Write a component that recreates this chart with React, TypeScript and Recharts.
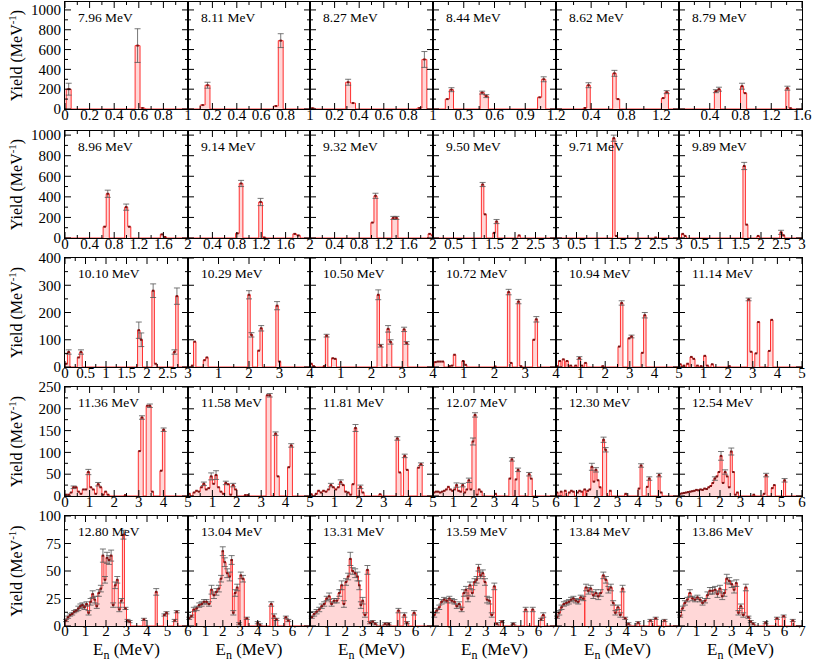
import React from 'react'
import { ComposedChart, Area, Scatter, ErrorBar, XAxis, YAxis } from 'recharts'

const FONT = '"Liberation Serif", "Times New Roman", serif'

const ENERGIES = [
  '7.96', '8.11', '8.27', '8.44', '8.62', '8.79',
  '8.96', '9.14', '9.32', '9.50', '9.71', '9.89',
  '10.10', '10.29', '10.50', '10.72', '10.94', '11.14',
  '11.36', '11.58', '11.81', '12.07', '12.30', '12.54',
  '12.80', '13.04', '13.31', '13.59', '13.84', '13.86',
]

const COL_LEFT = [65, 188, 310, 433, 556, 679]
const COL_W = [123, 122, 123, 123, 123, 123]
const ROW_TOP = [2, 131, 258, 387, 516]
const ROW_H = [107, 107, 109, 109, 110]
const Y_MAX = [1080, 1040, 400, 250, 100]
const Y_TICKS = [
  [0, 200, 400, 600, 800, 1000],
  [0, 200, 400, 600, 800, 1000],
  [0, 100, 200, 300, 400],
  [0, 50, 100, 150, 200, 250],
  [0, 25, 50, 75, 100],
]

const T1 = [0, 0.2, 0.4, 0.6, 0.8, 1]
const T2 = [0, 0.4, 0.8, 1.2, 1.6, 2]
const T3 = [0, 0.5, 1, 1.5, 2, 2.5, 3]
const T4 = [0, 1, 2, 3, 4]
const T5 = [0, 1, 2, 3, 4, 5]
const T6 = [0, 1, 2, 3, 4, 5, 6]
const T7 = [0, 1, 2, 3, 4, 5, 6, 7]
const X_TICKS = [
  T1, T1, T1, [0, 0.3, 0.6, 0.9, 1.2], [0, 0.4, 0.8, 1.2], [0, 0.4, 0.8, 1.2, 1.6],
  T2, T2, T2, T3, T3, T3,
  T3, T4, T4, T4, T5, T5,
  T5, T5, T5, T6, T6, T6,
  T6, T7, T7, T7, T7, T7,
]
const X_MAX = [
  1, 1, 1, 1.2, 1.4, 1.6,
  2, 2, 2, 3, 3, 3,
  3, 4, 4, 4, 5, 5,
  5, 5, 5, 6, 6, 6,
  6, 7, 7, 7, 7, 7,
]
const BIN_W = [
  0.04, 0.04, 0.04, 0.04, 0.04, 0.04,
  0.05, 0.06, 0.05, 0.06, 0.06, 0.06,
  0.06, 0.08, 0.08, 0.08, 0.1, 0.1,
  0.1, 0.1, 0.1, 0.1, 0.1, 0.1,
  0.1, 0.15, 0.15, 0.15, 0.15, 0.15,
]

// [bin left edge (MeV), yield, error]
const B796 = [[0.01, 200, 60], [0.57, 640, 170], [0.61, 10]]
const B811 = [[0.1, 40], [0.14, 240, 30], [0.7, 30], [0.74, 690, 70]]
const B827 = [[0, 8], [0.29, 270, 30], [0.33, 60], [0.87, 10], [0.91, 500, 80]]
const B844 = [[0.12, 100], [0.16, 195, 20], [0.46, 165, 15], [0.5, 130, 15], [1.02, 118], [1.06, 300, 25]]
const B862 = [[0.31, 10], [0.35, 240, 25], [0.645, 360, 30], [0.685, 100], [1.2, 110], [1.24, 170, 15]]
const B879 = [[0.46, 180, 15], [0.5, 200, 20], [0.8, 230, 30], [0.84, 160], [1.39, 210, 20], [1.43, 8]]

const B896 = [[0.62, 110], [0.67, 430, 35], [0.97, 300, 30], [1.02, 110], [1.55, 35], [1.6, 10]]
const B914 = [[0.78, 45], [0.84, 530, 30], [1.16, 350, 35], [1.22, 5], [1.72, 40], [1.78, 25]]
const B932 = [[0.99, 150], [1.04, 410, 25], [1.33, 195, 15], [1.38, 195, 15], [1.92, 40], [1.97, 25]]
const B950 = [[1.18, 520, 20], [1.24, 230], [1.46, 50], [1.52, 160, 20], [2.07, 25]]
const B971 = [[1.38, 970, 30], [1.44, 20], [2.4, 5]]
const B989 = [[0.06, 40], [0.12, 20], [1.56, 700, 35], [1.62, 130], [1.9, 20], [2.46, 55, 20], [2.52, 25]]

const B1010 = [[0, 12], [0.06, 55, 8], [0.3, 35], [0.36, 55, 8], [1.77, 135, 30], [1.83, 100, 25], [2.12, 280, 25], [2.18, 12], [2.64, 55, 8], [2.7, 260, 30]]
const B1029 = [[0.1, 5], [0.18, 93], [0.5, 25], [0.58, 35], [1.96, 265, 15], [2.04, 118, 8], [2.28, 60], [2.36, 142, 10], [2.88, 225, 15], [2.96, 20]]
const B1050 = [[0, 12], [0.08, 3], [0.42, 3], [0.5, 115, 5], [0.7, 32], [0.78, 30], [2.18, 265, 18], [2.26, 78, 5], [2.5, 140, 12], [2.58, 92, 8], [3.02, 138, 8], [3.1, 88, 5]]
const B1072 = [[0.04, 18], [0.12, 20], [0.2, 20], [0.28, 20], [0.5, 3], [0.58, 5], [0.66, 45], [0.94, 22], [1.02, 8], [1.98, 2], [2.42, 275, 10], [2.5, 15], [2.74, 240, 8], [2.82, 3], [3.24, 100], [3.32, 175, 10]]
const B1094 = [[0, 3], [0.1, 22], [0.25, 28], [0.4, 22], [0.55, 5], [0.75, 5], [0.9, 33, 5], [1.0, 5], [1.15, 15], [1.85, 3], [2.52, 75], [2.62, 235, 8], [2.92, 105], [3.02, 112, 5], [3.46, 52], [3.56, 190, 10]]
const B1114 = [[0, 10], [0.15, 5], [0.3, 12], [0.45, 37], [0.55, 30], [0.7, 5], [0.85, 3], [1.0, 41], [1.1, 5], [1.3, 10], [2.0, 3], [2.78, 248, 5], [2.88, 56], [3.08, 50], [3.18, 165], [3.62, 59], [3.72, 173]]

const B1136 = [[0, 3], [0.1, 3], [0.2, 8], [0.3, 20, 3], [0.4, 20], [0.5, 10], [0.6, 5], [0.7, 15], [0.8, 15], [0.9, 55, 6], [1.0, 20], [1.1, 15], [1.2, 5], [1.3, 27, 4], [1.4, 20], [1.5, 3], [1.6, 10], [1.7, 3], [2.4, 2], [2.98, 103], [3.08, 180, 4], [3.3, 207], [3.4, 207, 4], [3.5, 10], [3.86, 58], [3.96, 152, 4]]
const B1158 = [[0, 5], [0.2, 8], [0.3, 12], [0.4, 10], [0.5, 20], [0.6, 28, 4], [0.7, 15], [0.8, 18], [0.9, 45, 8], [1.0, 28], [1.1, 48, 10], [1.2, 20], [1.3, 10], [1.4, 5], [1.5, 30, 4], [1.6, 27], [1.7, 3], [1.8, 25, 4], [1.9, 15], [2.3, 2], [2.4, 2], [3.2, 231], [3.3, 231, 4], [3.54, 143, 4], [3.64, 45], [4.08, 66], [4.18, 116, 4]]
const B1181 = [[0, 4], [0.2, 5], [0.3, 12], [0.4, 8], [0.5, 12], [0.6, 10], [0.7, 15], [0.8, 25, 4], [0.9, 20], [1.0, 15], [1.1, 20], [1.2, 32, 5], [1.3, 25], [1.4, 10], [1.5, 8], [1.6, 3], [1.7, 27], [1.8, 156, 8], [2.0, 21, 4], [2.1, 8], [2.8, 4], [3.5, 132, 4], [3.6, 54], [3.8, 92, 4], [3.9, 60], [4.36, 65], [4.46, 73, 3]]
const B1207 = [[0, 8], [0.1, 10], [0.2, 10], [0.3, 8], [0.4, 10], [0.5, 12], [0.6, 15], [0.7, 21], [0.8, 15], [0.9, 12], [1.0, 15], [1.1, 25, 5], [1.2, 12], [1.3, 10], [1.4, 25, 4], [1.5, 8], [1.6, 15], [1.7, 36, 5], [1.8, 15], [1.9, 125, 8], [2.0, 186, 5], [2.1, 3], [2.2, 15], [2.3, 10], [3.0, 5], [3.7, 40], [3.8, 84, 4], [4.0, 38], [4.1, 60, 4], [4.64, 50, 4], [4.74, 40]]
const B1230 = [[0, 8], [0.2, 10], [0.4, 12], [0.6, 8], [0.7, 12], [0.8, 10], [1.0, 8], [1.1, 12], [1.2, 10], [1.35, 15], [1.5, 12], [1.6, 15], [1.7, 67, 8], [1.8, 33], [1.9, 60, 5], [2.0, 36], [2.1, 20], [2.27, 129, 6], [2.37, 106, 5], [2.6, 12], [3.35, 5], [4.0, 17], [4.1, 70, 4], [4.4, 21], [4.5, 40, 4], [4.98, 48, 4], [5.08, 8]]
const B1254 = [[0, 5], [0.1, 6], [0.2, 7], [0.3, 8], [0.4, 9], [0.5, 10], [0.6, 11], [0.7, 12], [0.8, 14], [0.9, 13], [1.0, 15], [1.1, 14], [1.2, 17], [1.3, 16], [1.4, 20], [1.5, 23], [1.6, 30], [1.7, 40, 4], [1.8, 45], [1.9, 55], [2.0, 92, 10], [2.1, 30], [2.2, 55, 5], [2.3, 45], [2.4, 20], [2.5, 102, 8], [2.6, 55], [2.7, 3], [2.8, 8], [3.6, 3], [4.1, 5], [4.2, 48, 4], [4.5, 18], [4.6, 25], [5.1, 36, 4]]

const B1280 = [[0, 5, 1], [0.1, 8, 1], [0.2, 10, 1], [0.3, 11, 1], [0.4, 13, 1], [0.5, 14, 1], [0.6, 16, 2], [0.7, 18, 2], [0.8, 19, 2], [0.9, 17, 2], [1.0, 20, 2], [1.1, 12, 2], [1.2, 22, 3], [1.3, 29, 3], [1.4, 24, 3], [1.5, 18, 2], [1.6, 30, 3], [1.7, 34, 3], [1.8, 64, 6], [1.9, 42, 3], [2.0, 62, 5], [2.1, 60, 4], [2.2, 64, 5], [2.3, 19, 2], [2.4, 37, 3], [2.5, 42, 3], [2.6, 15, 2], [2.7, 23, 2], [2.8, 83, 4], [2.9, 16, 1], [3.0, 5, 1], [3.1, 4, 1], [3.8, 6, 1], [4.4, 31, 3], [4.8, 10, 1], [4.9, 12, 1], [5.3, 5, 1], [5.4, 13, 1]]
const B1304 = [[0, 7, 1], [0.13, 9, 1], [0.26, 15, 2], [0.42, 16, 2], [0.57, 19, 2], [0.72, 20, 2], [0.85, 22, 2], [0.99, 22, 2], [1.13, 20, 2], [1.28, 33, 4], [1.42, 28, 3], [1.56, 31, 3], [1.7, 34, 3], [1.84, 43, 3], [1.95, 68, 4], [2.04, 58, 4], [2.18, 48, 4], [2.32, 45, 4], [2.46, 60, 4], [2.55, 12, 2], [2.65, 30, 3], [2.76, 35, 3], [2.88, 2, 1], [2.98, 46, 3], [3.08, 43, 3], [3.3, 7, 1], [3.95, 3, 1], [4.05, 1, 1], [4.7, 20, 2], [4.88, 9, 2], [5.0, 6, 1], [5.55, 8, 1], [5.68, 5, 1]]
const B1331 = [[0.03, 8, 1], [0.17, 11, 2], [0.3, 13, 2], [0.45, 15, 2], [0.6, 18, 2], [0.74, 20, 2], [0.88, 25, 2], [1.02, 27, 3], [1.16, 20, 2], [1.3, 23, 2], [1.45, 23, 2], [1.6, 30, 3], [1.74, 37, 4], [1.87, 20, 3], [1.99, 40, 3], [2.11, 45, 3], [2.23, 61, 6], [2.36, 50, 3], [2.5, 48, 4], [2.64, 45, 4], [2.76, 37, 4], [2.85, 19, 3], [2.94, 23, 3], [3.06, 10, 2], [3.2, 51, 4], [3.34, 3, 1], [3.5, 4, 1], [3.64, 2, 1], [4.2, 2, 1], [4.4, 2, 1], [4.96, 14, 2], [5.3, 10, 2], [5.44, 3, 1], [5.85, 12, 2]]
const B1359 = [[0, 10, 2], [0.14, 14, 2], [0.29, 17, 2], [0.42, 22, 2], [0.56, 24, 2], [0.7, 23, 2], [0.86, 25, 2], [1.0, 23, 2], [1.15, 22, 2], [1.29, 18, 2], [1.42, 20, 2], [1.56, 15, 2], [1.7, 30, 3], [1.82, 33, 3], [1.94, 25, 3], [2.04, 37, 3], [2.17, 30, 3], [2.3, 40, 3], [2.43, 42, 3], [2.53, 53, 3], [2.65, 46, 3], [2.77, 48, 3], [2.9, 40, 3], [3.02, 24, 3], [3.14, 23, 3], [3.27, 10, 2], [3.42, 36, 3], [3.56, 2, 1], [3.84, 4, 1], [4.5, 2, 1], [5.2, 15, 2], [5.6, 15, 2], [6.1, 6, 1], [6.2, 10, 2]]
const B1384 = [[0, 8, 1], [0.12, 12, 2], [0.25, 17, 2], [0.38, 20, 2], [0.52, 21, 2], [0.67, 22, 2], [0.8, 24, 2], [0.92, 25, 2], [1.06, 23, 2], [1.2, 22, 2], [1.33, 26, 2], [1.48, 25, 2], [1.64, 35, 3], [1.78, 32, 3], [1.9, 34, 3], [2.05, 28, 3], [2.2, 30, 3], [2.34, 27, 3], [2.47, 30, 3], [2.62, 46, 3], [2.77, 42, 3], [2.91, 33, 3], [3.05, 35, 3], [3.2, 21, 2], [3.31, 12, 2], [3.45, 17, 2], [3.6, 10, 2], [3.72, 34, 3], [3.86, 7, 1], [4.05, 2, 1], [4.6, 3, 1], [5.3, 5, 1], [5.6, 7, 1], [6.1, 5, 1]]
const B1386 = [[0, 9, 1], [0.13, 16, 2], [0.27, 21, 2], [0.4, 24, 2], [0.55, 30, 3], [0.69, 25, 2], [0.84, 24, 2], [0.98, 26, 2], [1.12, 24, 2], [1.27, 21, 2], [1.41, 23, 2], [1.55, 28, 3], [1.69, 32, 3], [1.83, 32, 3], [1.98, 33, 3], [2.12, 29, 3], [2.26, 34, 3], [2.4, 27, 3], [2.52, 30, 3], [2.65, 43, 4], [2.79, 41, 3], [2.93, 38, 3], [3.07, 33, 3], [3.2, 39, 3], [3.32, 12, 2], [3.45, 18, 2], [3.59, 10, 2], [3.73, 35, 3], [3.88, 8, 1], [4.02, 4, 1], [4.15, 2, 1], [4.85, 3, 1], [5.5, 7, 1], [5.88, 9, 1], [6.4, 5, 1]]

const BINS = [
  B796, B811, B827, B844, B862, B879,
  B896, B914, B932, B950, B971, B989,
  B1010, B1029, B1050, B1072, B1094, B1114,
  B1136, B1158, B1181, B1207, B1230, B1254,
  B1280, B1304, B1331, B1359, B1384, B1386,
]

function mids(arr: number[]) {
  const out: number[] = []
  for (let i = 0; i < arr.length - 1; i++) out.push((arr[i] + arr[i + 1]) / 2)
  return out
}

// histogram outline for a stepAfter area
function stepData(bins: number[][], w: number, xmax: number) {
  const pts = [{ x: 0, y: 0 }]
  bins.forEach((b, i) => {
    pts.push({ x: b[0], y: b[1] })
    const next = bins[i + 1]
    if (!next || next[0] > b[0] + w + 1e-6) pts.push({ x: b[0] + w, y: 0 })
  })
  pts.push({ x: xmax, y: 0 })
  return pts
}

function centers(bins: number[][], w: number) {
  return bins.map((b, i) => {
    const next = bins[i + 1]
    const width = next ? Math.min(w, next[0] - b[0]) : w
    return { x: b[0] + width / 2, y: b[1], e: b[2] ?? 0 }
  })
}

const isIn = (arr: number[], v: number) => arr.some((m) => Math.abs(m - v) < 1e-6)

function XTick(props: any) {
  const { x, y, payload, majors, h, first, dy } = props
  const major = isIn(majors, payload.value)
  const len = major ? 6 : 3
  const showLabel = major && (first || payload.value !== 0)
  return (
    <g>
      <line x1={x} y1={y} x2={x} y2={y - len} stroke="#000" strokeWidth={1} />
      <line x1={x} y1={y - h} x2={x} y2={y - h + len} stroke="#000" strokeWidth={1} />
      {showLabel && (
        <text x={x} y={y + dy} textAnchor="middle" fontSize={15} fontFamily={FONT} fill="#000">
          {String(payload.value)}
        </text>
      )}
    </g>
  )
}

function YTick(props: any) {
  const { x, y, payload, majors, w, labels } = props
  const major = isIn(majors, payload.value)
  const len = major ? 6 : 3
  return (
    <g>
      <line x1={x} y1={y} x2={x + len} y2={y} stroke="#000" strokeWidth={1} />
      <line x1={x + w} y1={y} x2={x + w - len} y2={y} stroke="#000" strokeWidth={1} />
      {labels && major && (
        <text x={x - 4} y={y} dy="0.35em" textAnchor="end" fontSize={15} fontFamily={FONT} fill="#000">
          {String(payload.value)}
        </text>
      )}
    </g>
  )
}

const Mark = (p: any) => <rect x={p.cx - 1.2} y={p.cy - 1} width={2.4} height={2} fill="#7a1414" />

// axes get 1px of room (a zero-size axis is not drawn), margins compensate
const M = { top: 10, right: 14, bottom: 25, left: 41 }

function Panel({ idx }: { idx: number }) {
  const r = Math.floor(idx / 6)
  const c = idx % 6
  const w = COL_W[c]
  const h = ROW_H[r]
  const xmax = X_MAX[idx]
  const xMaj = X_TICKS[idx]
  const yMaj = Y_TICKS[r]
  const steps = stepData(BINS[idx], BIN_W[idx], xmax)
  const pts = centers(BINS[idx], BIN_W[idx])
  const labelDy = r === 4 ? 10 : 11
  return (
    <div style={{ position: 'absolute', left: COL_LEFT[c] - M.left - 1, top: ROW_TOP[r] - M.top }}>
      <ComposedChart width={w + M.left + M.right + 1} height={h + M.top + M.bottom + 1} data={steps} margin={M}>
        <Area
          type="stepAfter"
          dataKey="y"
          stroke="#ff3030"
          strokeWidth={1}
          fill="#ffb0b0"
          fillOpacity={0.5}
          dot={false}
          activeDot={false}
          isAnimationActive={false}
        />
        <Scatter data={pts} dataKey="y" shape={Mark} isAnimationActive={false}>
          <ErrorBar dataKey="e" direction="y" width={3} stroke="#555" strokeWidth={0.8} />
        </Scatter>
        <XAxis
          type="number"
          dataKey="x"
          domain={[0, xmax]}
          allowDataOverflow
          ticks={[...xMaj, ...mids(xMaj)]}
          interval={0}
          height={1}
          tickSize={0}
          tickMargin={0}
          axisLine={false}
          tickLine={false}
          tick={(p: any) => <XTick {...p} majors={xMaj} h={h} first={c === 0} dy={labelDy} />}
        />
        <YAxis
          type="number"
          dataKey="y"
          domain={[0, Y_MAX[r]]}
          allowDataOverflow
          ticks={[...yMaj, ...mids(yMaj)]}
          interval={0}
          width={1}
          tickSize={0}
          tickMargin={0}
          axisLine={false}
          tickLine={false}
          tick={(p: any) => <YTick {...p} majors={yMaj} w={w} labels={c === 0} />}
        />
      </ComposedChart>
    </div>
  )
}

export default function App() {
  return (
    <div style={{ position: 'relative', width: 814, height: 666, background: '#fff', overflow: 'hidden' }}>
      <style>{'body{margin:0}'}</style>
      {ENERGIES.map((_, i) => (
        <Panel key={i} idx={i} />
      ))}
      {ENERGIES.map((_, i) => {
        const r = Math.floor(i / 6)
        const c = i % 6
        return (
          <div
            key={'f' + i}
            style={{
              position: 'absolute',
              left: COL_LEFT[c] - 0.75,
              top: ROW_TOP[r] - 0.75,
              width: COL_W[c] + 1.5,
              height: ROW_H[r] + 1.5,
              border: '1.5px solid #000',
              boxSizing: 'border-box',
            }}
          />
        )
      })}
      <svg width={814} height={666} style={{ position: 'absolute', left: 0, top: 0 }}>
        {ENERGIES.map((e, i) => {
          const r = Math.floor(i / 6)
          const c = i % 6
          return (
            <text key={e} x={COL_LEFT[c] + 13} y={ROW_TOP[r] + 20} fontSize={13.5} fontFamily={FONT} fill="#000">
              {e} MeV
            </text>
          )
        })}
        {ROW_TOP.map((t, r) => {
          const cy = t + ROW_H[r] / 2
          return (
            <text key={'y' + r} x={22} y={cy} transform={`rotate(-90 22 ${cy})`} textAnchor="middle" fontSize={16} fontFamily={FONT} fill="#000">
              Yield (MeV
              <tspan dy={-6} fontSize={11}>-1</tspan>
              <tspan dy={6}>)</tspan>
            </text>
          )
        })}
        {COL_LEFT.map((l, c) => (
          <text key={'x' + c} x={l + COL_W[c] / 2} y={655} textAnchor="middle" fontSize={17} fontFamily={FONT} fill="#000">
            E<tspan dy={4} fontSize={12}>n</tspan>
            <tspan dy={-4}> (MeV)</tspan>
          </text>
        ))}
      </svg>
    </div>
  )
}
